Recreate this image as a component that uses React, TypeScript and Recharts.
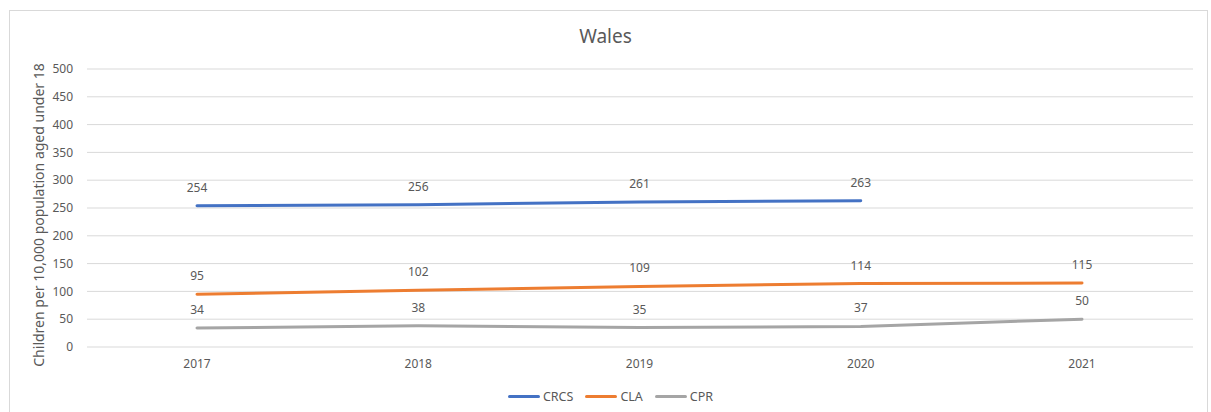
import React from 'react';
import { LineChart, Line, XAxis, YAxis, CartesianGrid, Legend, LabelList } from 'recharts';

const years = ['2017', '2018', '2019', '2020', '2021'];
const crcs = [254, 256, 261, 263, null];
const cla = [95, 102, 109, 114, 115];
const cpr = [34, 38, 35, 37, 50];
const yTicks = [0, 50, 100, 150, 200, 250, 300, 350, 400, 450, 500];

const data = years.map((year, i) => ({ year, CRCS: crcs[i], CLA: cla[i], CPR: cpr[i] }));

const FONT = '"Noto Sans", "Open Sans", sans-serif';
const TEXT = '#595959';

const SERIES = [
  { key: 'CRCS', color: '#4472C4' },
  { key: 'CLA', color: '#ED7D31' },
  { key: 'CPR', color: '#A5A5A5' },
];

const LegendContent = () => (
  <div style={{ display: 'flex', justifyContent: 'center', gap: 12, paddingTop: 11, paddingLeft: 28, fontFamily: FONT, fontSize: 12.5, color: TEXT }}>
    {SERIES.map(s => (
      <div key={s.key} style={{ display: 'flex', alignItems: 'center' }}>
        <div style={{ width: 32, height: 3, borderRadius: 2, background: s.color, marginRight: 3 }} />
        <span>{s.key}</span>
      </div>
    ))}
  </div>
);

const YLabel = () => (
  <text
    x={38}
    y={215}
    transform="rotate(-90 38 215)"
    textAnchor="middle"
    dominantBaseline="central"
    fill={TEXT}
    fontSize={14}
    fontFamily={FONT}
  >
    Children per 10,000 population aged under 18
  </text>
);

export default function App() {
  return (
    <div style={{ position: 'absolute', left: 0, top: 0, width: 1211, height: 412, background: '#fff', overflow: 'hidden' }}>
      <div style={{ position: 'absolute', left: 9, top: 10, width: 1197, height: 410, border: '1px solid #d9d9d9' }} />
      <div style={{ position: 'absolute', left: 0, top: 23, width: 1211, textAlign: 'center', fontFamily: FONT, fontSize: 19, color: TEXT }}>
        Wales
      </div>
      <div style={{ position: 'absolute', left: 0, top: 0 }}>
        <LineChart width={1211} height={412} data={data} margin={{ top: 69, right: 18, bottom: 0, left: 0 }}>
          <CartesianGrid vertical={false} stroke="#d9d9d9" />
          <XAxis
            dataKey="year"
            axisLine={false}
            tickLine={false}
            height={30}
            tickSize={0}
            tickMargin={12}
            padding={{ left: 110, right: 111 }}
            tick={{ fill: TEXT, fontSize: 12, fontFamily: FONT }}
          />
          <YAxis
            domain={[0, 500]}
            ticks={yTicks}
            width={87}
            axisLine={false}
            tickLine={false}
            tickSize={0}
            tickMargin={14}
            tick={{ fill: TEXT, fontSize: 12, fontFamily: FONT }}
            label={<YLabel />}
          />
          <Legend verticalAlign="bottom" height={35} content={<LegendContent />} />
          {SERIES.map(s => (
            <Line
              key={s.key}
              dataKey={s.key}
              stroke={s.color}
              strokeWidth={3}
              dot={false}
              activeDot={false}
              strokeLinecap="round"
              isAnimationActive={false}
            >
              <LabelList dataKey={s.key} position="top" offset={14} fill={TEXT} fontSize={12} fontFamily={FONT} />
            </Line>
          ))}
        </LineChart>
      </div>
    </div>
  );
}
